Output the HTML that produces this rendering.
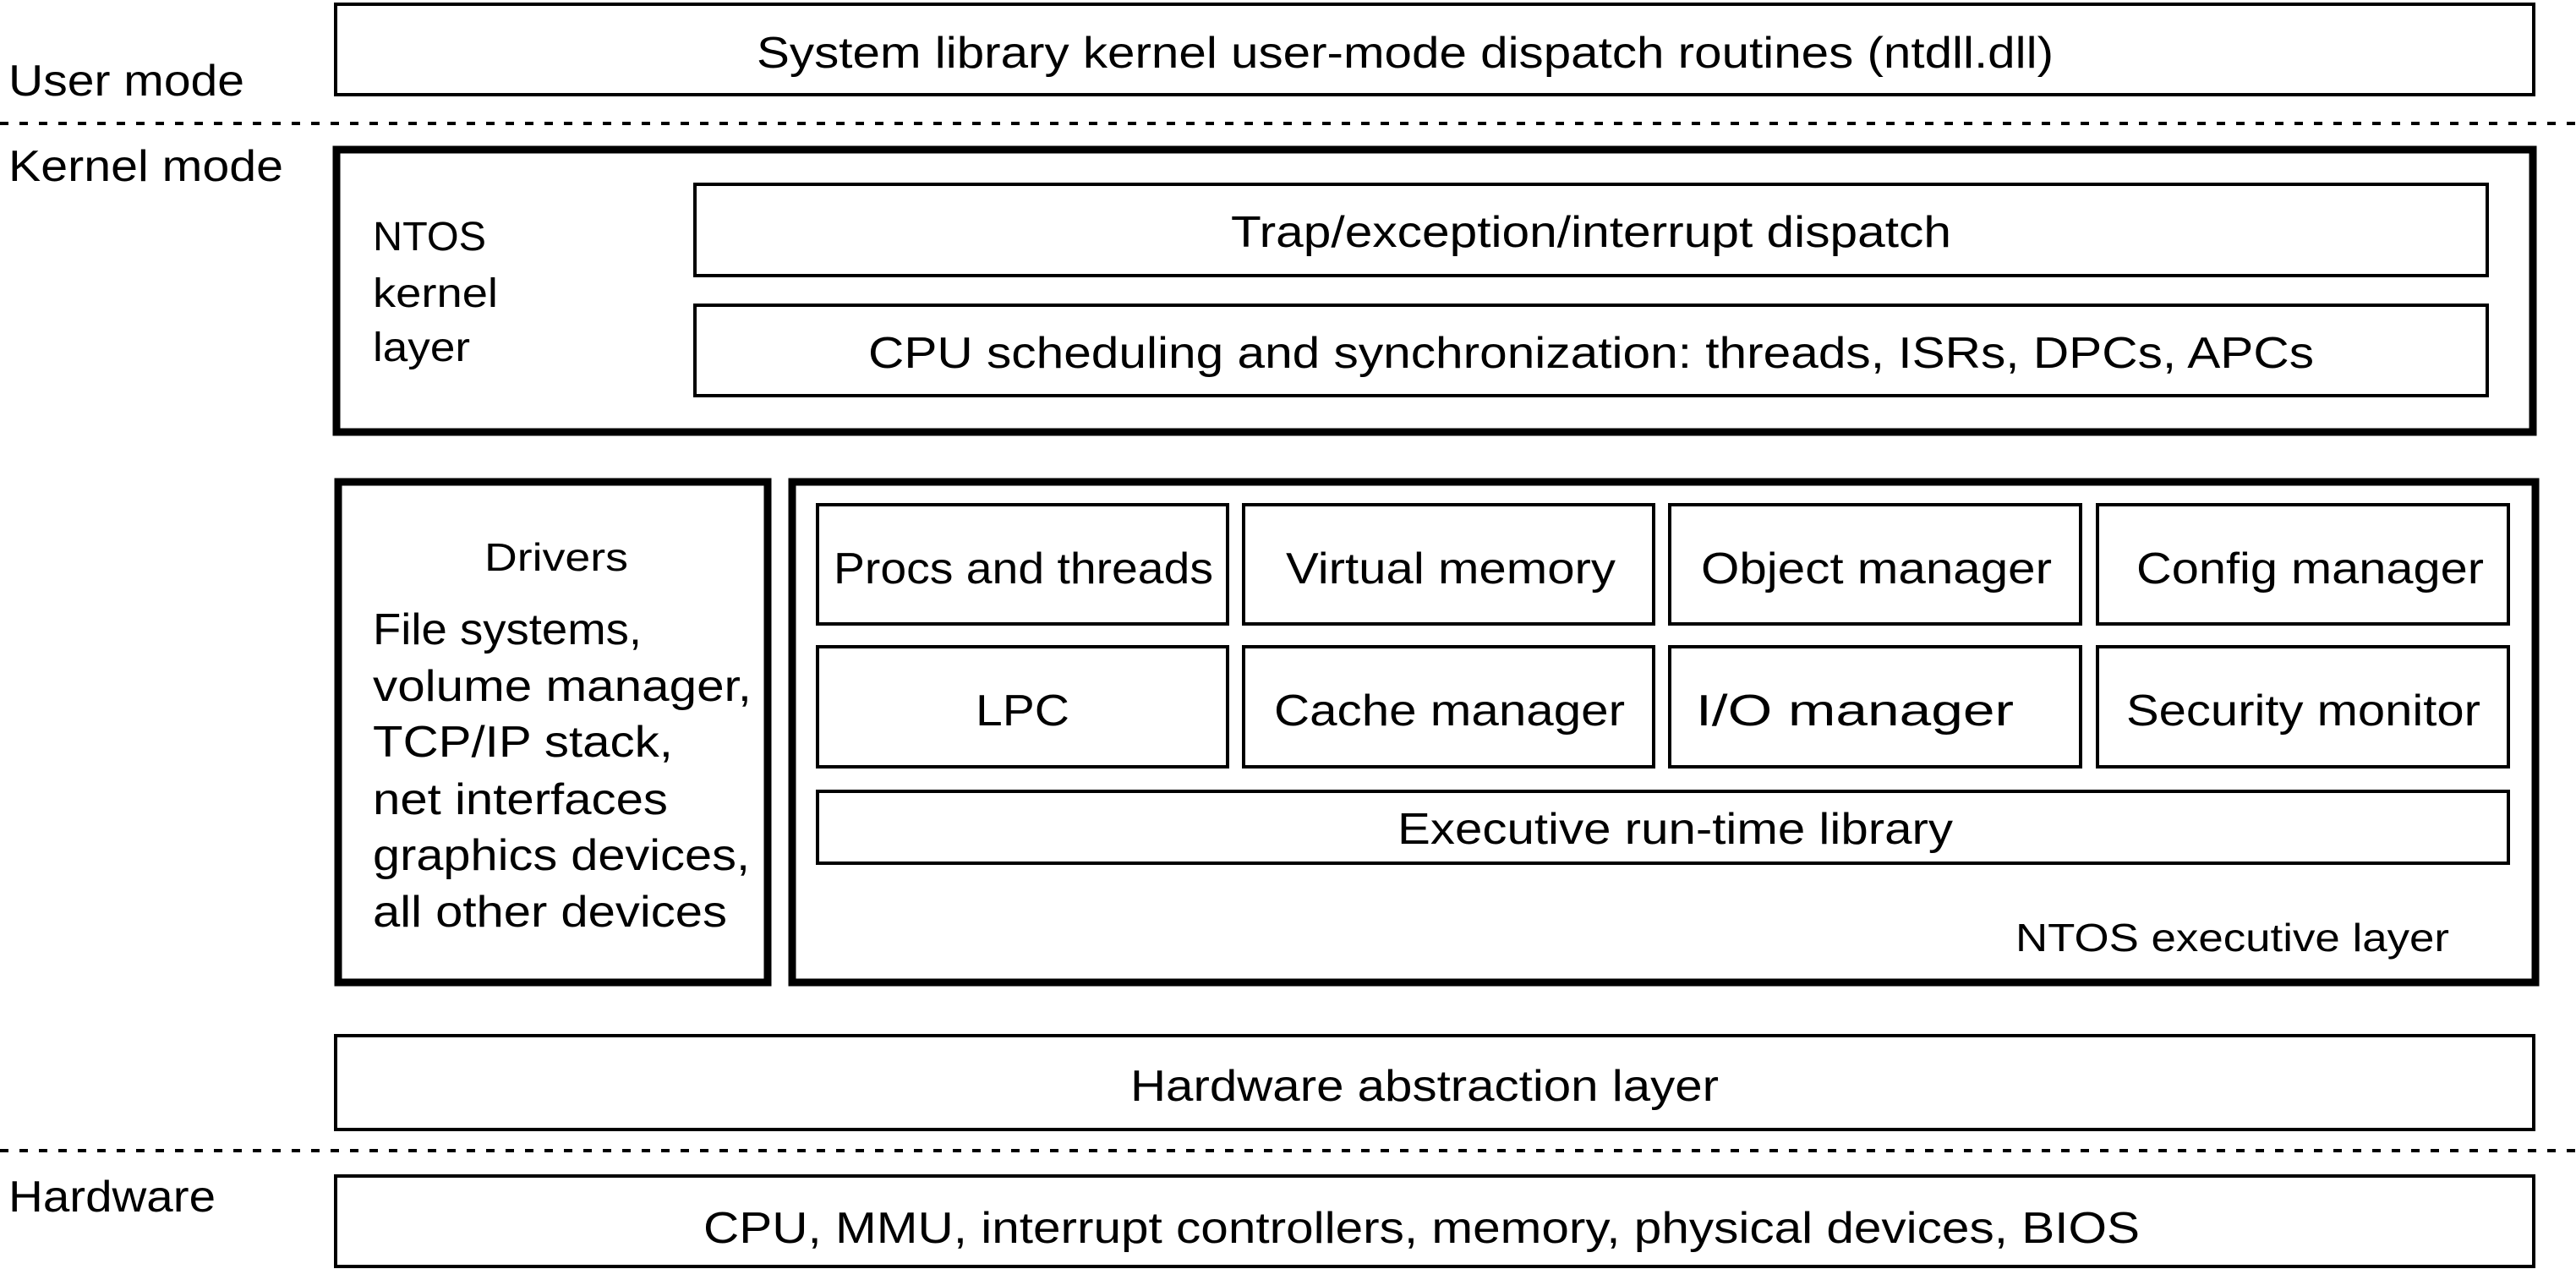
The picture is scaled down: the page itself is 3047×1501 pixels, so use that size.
<!DOCTYPE html>
<html><head><meta charset="utf-8"><style>
html,body{margin:0;padding:0;background:#fff;}
svg{display:block;}
text{font-family:"Liberation Sans",sans-serif;font-size:52px;fill:#000;}
</style></head><body>
<svg width="3047" height="1501" viewBox="0 0 3047 1501" xmlns="http://www.w3.org/2000/svg">
<g fill="none" stroke="#000">
<rect x="397" y="5" width="2600" height="107" stroke-width="4"/>
<line x1="0" y1="146" x2="3047" y2="146" stroke-width="4" stroke-dasharray="10,13"/>
<rect x="398" y="177" width="2598" height="334" stroke-width="9"/>
<rect x="822" y="218" width="2120" height="108" stroke-width="4"/>
<rect x="822" y="361" width="2120" height="107" stroke-width="4"/>
<rect x="400" y="570" width="508" height="592" stroke-width="9"/>
<rect x="937" y="570" width="2062" height="592" stroke-width="9"/>
<rect x="967" y="597" width="485" height="141" stroke-width="4"/>
<rect x="1471" y="597" width="485" height="141" stroke-width="4"/>
<rect x="1975" y="597" width="486" height="141" stroke-width="4"/>
<rect x="2481" y="597" width="486" height="141" stroke-width="4"/>
<rect x="967" y="765" width="485" height="142" stroke-width="4"/>
<rect x="1471" y="765" width="485" height="142" stroke-width="4"/>
<rect x="1975" y="765" width="486" height="142" stroke-width="4"/>
<rect x="2481" y="765" width="486" height="142" stroke-width="4"/>
<rect x="967" y="936" width="2000" height="85" stroke-width="4"/>
<rect x="397" y="1225" width="2600" height="111" stroke-width="4"/>
<line x1="0" y1="1361" x2="3047" y2="1361" stroke-width="4" stroke-dasharray="10,13"/>
<rect x="397" y="1391" width="2600" height="107" stroke-width="4"/>
</g>
<g lengthAdjust="spacingAndGlyphs">
<text x="10" y="113" textLength="279" lengthAdjust="spacingAndGlyphs">User mode</text>
<text x="895" y="80" textLength="1534" lengthAdjust="spacingAndGlyphs">System library kernel user-mode dispatch routines (ntdll.dll)</text>
<text x="10" y="214" textLength="325" lengthAdjust="spacingAndGlyphs">Kernel mode</text>
<text x="441" y="296" textLength="134" lengthAdjust="spacingAndGlyphs" style="font-size:48px">NTOS</text>
<text x="441" y="363" textLength="148" lengthAdjust="spacingAndGlyphs" style="font-size:48px">kernel</text>
<text x="441" y="427" textLength="115" lengthAdjust="spacingAndGlyphs" style="font-size:48px">layer</text>
<text x="1456" y="292" textLength="852" lengthAdjust="spacingAndGlyphs">Trap/exception/interrupt dispatch</text>
<text x="1027" y="435" textLength="1710" lengthAdjust="spacingAndGlyphs">CPU scheduling and synchronization: threads, ISRs, DPCs, APCs</text>
<text x="573" y="675" textLength="170" lengthAdjust="spacingAndGlyphs" style="font-size:46px">Drivers</text>
<text x="441" y="762" textLength="318" lengthAdjust="spacingAndGlyphs">File systems,</text>
<text x="441" y="829" textLength="448" lengthAdjust="spacingAndGlyphs">volume manager,</text>
<text x="441" y="895" textLength="355" lengthAdjust="spacingAndGlyphs">TCP/IP stack,</text>
<text x="441" y="963" textLength="349" lengthAdjust="spacingAndGlyphs">net interfaces</text>
<text x="441" y="1029" textLength="446" lengthAdjust="spacingAndGlyphs">graphics devices,</text>
<text x="441" y="1096" textLength="419" lengthAdjust="spacingAndGlyphs">all other devices</text>
<text x="986" y="690" textLength="449" lengthAdjust="spacingAndGlyphs">Procs and threads</text>
<text x="1521" y="690" textLength="390" lengthAdjust="spacingAndGlyphs">Virtual memory</text>
<text x="2012" y="690" textLength="415" lengthAdjust="spacingAndGlyphs">Object manager</text>
<text x="2527" y="690" textLength="411" lengthAdjust="spacingAndGlyphs">Config manager</text>
<text x="1154" y="858" textLength="111" lengthAdjust="spacingAndGlyphs">LPC</text>
<text x="1507" y="858" textLength="415" lengthAdjust="spacingAndGlyphs">Cache manager</text>
<text x="2006" y="858" textLength="376" lengthAdjust="spacingAndGlyphs">I/O manager</text>
<text x="2515" y="858" textLength="419" lengthAdjust="spacingAndGlyphs">Security monitor</text>
<text x="1653" y="998" textLength="657" lengthAdjust="spacingAndGlyphs">Executive run-time library</text>
<text x="2384" y="1125" textLength="513" lengthAdjust="spacingAndGlyphs" style="font-size:46px">NTOS executive layer</text>
<text x="1337" y="1302" textLength="696" lengthAdjust="spacingAndGlyphs">Hardware abstraction layer</text>
<text x="10" y="1433" textLength="245" lengthAdjust="spacingAndGlyphs">Hardware</text>
<text x="832" y="1470" textLength="1699" lengthAdjust="spacingAndGlyphs">CPU, MMU, interrupt controllers, memory, physical devices, BIOS</text>
</g>
</svg>
</body></html>
